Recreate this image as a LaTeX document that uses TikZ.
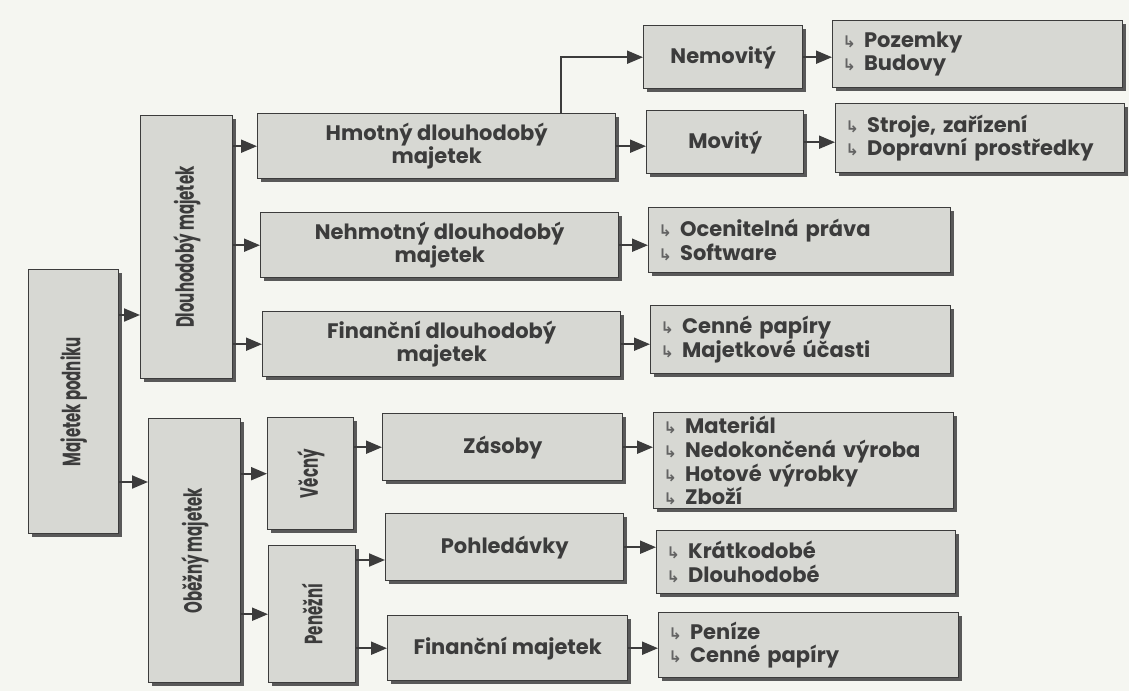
\documentclass[tikz,border=0pt]{standalone}
\usepackage{fontspec}
\setmainfont{Poppins}
\newfontfamily\narrowfont{Poppins}[FakeStretch=0.6]
\newfontfamily\symfont{DejaVu Sans}
\usetikzlibrary{positioning,arrows.meta,shadows}
\definecolor{boxgray}{HTML}{D7D8D3}
\definecolor{ink}{HTML}{3C3C3C}
\definecolor{paper}{HTML}{F5F6F1}
\newcommand\hk{{\symfont\fontsize{8}{8}\selectfont\color{ink!80}↳}\hspace{4pt}}

\begin{document}
\begin{tikzpicture}[
    x=0.5pt, y=-0.5pt,
    every node/.style={font=\bfseries\fontsize{10.5}{11.8}\selectfont, text=ink},
    box/.style={draw=ink, fill=boxgray, anchor=north west, inner sep=0pt,
                line width=0.7pt, align=center,
                drop shadow={shadow xshift=1.8pt, shadow yshift=-1.8pt,
                             opacity=1, fill=ink!85}},
    lbox/.style={box, align=left, inner xsep=5pt, text width=140pt},
    vtext/.style={rotate=90, font=\narrowfont\bfseries\fontsize{12.5}{14}\selectfont},
    arr/.style={-{Triangle[length=8pt,width=6.5pt]}, line width=1pt, draw=ink}
]
\fill[paper] (0,0) rectangle (1129,691);
\useasboundingbox (0,0) rectangle (1129,691);

% left column
\node[box, minimum width=45pt, minimum height=132pt] (maj) at (28,269) {};
\node[vtext] (majtx) at (maj.center) {Majetek podniku};
\node[box, minimum width=46pt, minimum height=131.5pt] (dl) at (140,115) {};
\node[vtext] (dltx) at (dl.center) {Dlouhodobý majetek};
\node[box, minimum width=46pt, minimum height=132pt] (ob) at (148,418) {};
\node[vtext] (obtx) at (ob.center) {Oběžný majetek};
\node[box, minimum width=43pt, minimum height=56pt] (vec) at (267,417) {};
\node[vtext] (vectx) at (vec.center) {Věcný};
\node[box, minimum width=43.5pt, minimum height=68.5pt] (pen) at (268,545) {};
\node[vtext] (pentx) at (pen.center) {Peněžní};

% middle column
\node[box, minimum width=179pt, minimum height=32.5pt] (hm) at (257,113) {Hmotný dlouhodobý\\majetek};
\node[box, minimum width=179pt, minimum height=32.5pt] (nh) at (260,212) {Nehmotný dlouhodobý\\majetek};
\node[box, minimum width=179pt, minimum height=32.5pt] (fd) at (262,311) {Finanční dlouhodobý\\majetek};
\node[box, minimum width=120pt, minimum height=33.5pt] (zas) at (382,413) {Zásoby};
\node[box, minimum width=119pt, minimum height=33.5pt] (poh) at (385,513) {Pohledávky};
\node[box, minimum width=120pt, minimum height=32.5pt] (fm) at (387,615) {Finanční majetek};
\node[box, minimum width=79.5pt, minimum height=31.5pt] (nem) at (643,25) {Nemovitý};
\node[box, minimum width=78.5pt, minimum height=31.5pt] (mov) at (646,110) {Movitý};

% lists
\node[lbox, text width=135pt, minimum height=33.5pt] (poz) at (832,20) {\hk Pozemky\\\hk Budovy};
\node[lbox, text width=134.5pt, minimum height=34.5pt] (str) at (835,103) {\hk Stroje, zařízení\\\hk Dopravní prostředky};
\node[lbox, text width=141pt, minimum height=32.5pt] (oce) at (648,207) {\hk Ocenitelná práva\\\hk Software};
\node[lbox, text width=140pt, minimum height=34pt] (cen) at (650,305) {\hk Cenné papíry\\\hk Majetkové účasti};
\node[lbox, text width=140pt, minimum height=48pt] (mat) at (653,412) {\hk Materiál\\\hk Nedokončená výroba\\\hk Hotové výrobky\\\hk Zboží};
\node[lbox, text width=139.5pt, minimum height=31.5pt] (kra) at (656,530) {\hk Krátkodobé\\\hk Dlouhodobé};
\node[lbox, text width=140pt, minimum height=32.5pt] (pnz) at (658,612) {\hk Peníze\\\hk Cenné papíry};

% connectors
\draw[arr] (maj.east |- 0,315) -- (dl.west |- 0,315);
\draw[arr] (maj.east |- 0,482) -- (ob.west |- 0,482);
\draw[arr] (dl.east |- hm.west) -- (hm.west);
\draw[arr] (dl.east |- nh.west) -- (nh.west);
\draw[arr] (dl.east |- fd.west) -- (fd.west);
\draw[arr] (ob.east |- vec.west) -- (vec.west);
\draw[arr] (ob.east |- pen.west) -- (pen.west);
\draw[arr] (vec.east |- zas.west) -- (zas.west);
\draw[arr] (pen.east |- 0,560) -- (poh.west |- 0,560);
\draw[arr] (pen.east |- fm.west) -- (fm.west);
\draw[arr] ([xshift=62pt]hm.north) |- (nem.west);
\draw[arr] (hm.east) -- (hm.east -| mov.west);
\draw[arr] (nem.east) -- (nem.east -| poz.west);
\draw[arr] (mov.east) -- (mov.east -| str.west);
\draw[arr] (nh.east) -- (nh.east -| oce.west);
\draw[arr] (fd.east) -- (fd.east -| cen.west);
\draw[arr] (zas.east) -- (zas.east -| mat.west);
\draw[arr] (poh.east) -- (poh.east -| kra.west);
\draw[arr] (fm.east) -- (fm.east -| pnz.west);
\end{tikzpicture}
\end{document}
